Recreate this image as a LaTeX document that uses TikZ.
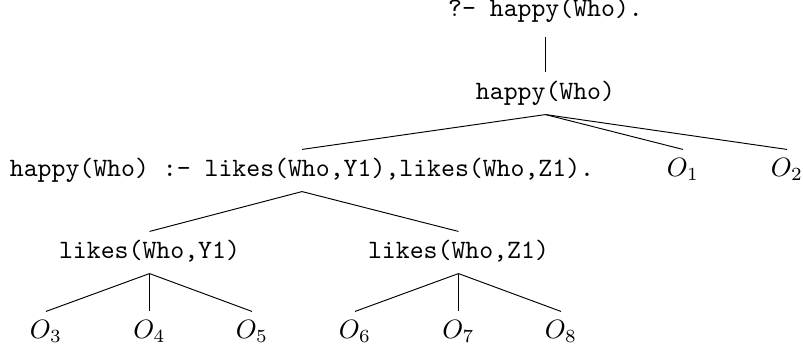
\documentclass[tikz,border=0pt]{standalone}
\begin{document}
\begin{tikzpicture}[x=0.3774pt,y=-0.3774pt,
  tnode/.style={inner sep=0pt, anchor=base, text height=10.2pt, text depth=5.3pt, font=\ttfamily},
  mnode/.style={inner sep=0pt, anchor=base, text height=10.2pt, text depth=5.3pt},
  edge/.style={line width=0.36pt}]
\useasboundingbox (0,0) rectangle (803,351);
\node[tnode, text depth=7.2pt] (q) at (545.5,17) {?- happy(Who).};
\node[tnode] (h) at (545.5,100) {happy(Who)};
\node[tnode] (c) at (302,177) {happy(Who) :- likes(Who,Y1),likes(Who,Z1).};
\node[mnode] (o1) at (683,177) {$O_1$};
\node[mnode] (o2) at (787,177) {$O_2$};
\node[tnode] (ly) at (149.5,259) {likes(Who,Y1)};
\node[tnode] (lz) at (458.5,259) {likes(Who,Z1)};
\node[mnode] (o3) at (46,339) {$O_3$};
\node[mnode] (o4) at (149.5,339) {$O_4$};
\node[mnode] (o5) at (252,339) {$O_5$};
\node[mnode] (o6) at (355,339) {$O_6$};
\node[mnode] (o7) at (458.5,339) {$O_7$};
\node[mnode] (o8) at (561,339) {$O_8$};
\draw[edge] (q.south) -- (h.north);
\draw[edge] (h.south) -- (c.north);
\draw[edge] (h.south) -- (o1.north);
\draw[edge] (h.south) -- (o2.north);
\draw[edge] (c.south) -- (ly.north);
\draw[edge] (c.south) -- (lz.north);
\draw[edge] (ly.south) -- (o3.north);
\draw[edge] (ly.south) -- (o4.north);
\draw[edge] (ly.south) -- (o5.north);
\draw[edge] (lz.south) -- (o6.north);
\draw[edge] (lz.south) -- (o7.north);
\draw[edge] (lz.south) -- (o8.north);
\end{tikzpicture}
\end{document}
